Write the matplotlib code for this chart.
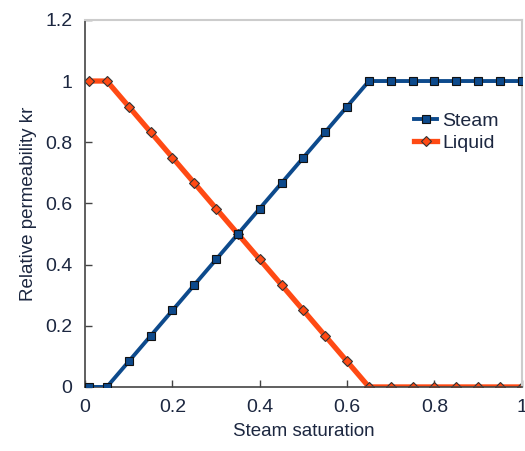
import matplotlib
matplotlib.use("Agg")
import matplotlib.pyplot as plt

plt.rcParams['font.family'] = ['Liberation Sans', 'DejaVu Sans']

# steam saturation and relative permeabilities
saturation = [0.01, 0.05, 0.10, 0.15, 0.20, 0.25, 0.30, 0.35, 0.40, 0.45, 0.50,
              0.55, 0.60, 0.65, 0.70, 0.75, 0.80, 0.85, 0.90, 0.95, 1.00]
kr_steam = [0.0, 0.0, 0.0833, 0.1667, 0.25, 0.3333, 0.4167, 0.5, 0.5833, 0.6667, 0.75,
            0.8333, 0.9167, 1.0, 1.0, 1.0, 1.0, 1.0, 1.0, 1.0, 1.0]
kr_liquid = [1.0, 1.0, 0.9167, 0.8333, 0.75, 0.6667, 0.5833, 0.5, 0.4167, 0.3333, 0.25,
             0.1667, 0.0833, 0.0, 0.0, 0.0, 0.0, 0.0, 0.0, 0.0, 0.0]

text_color = '#1c2740'
steam_color = '#0d4a8c'
liquid_color = '#ff4a14'

fig = plt.figure(figsize=(5.25, 4.51), dpi=100)
ax = fig.add_axes([0.162, 0.142, 0.832, 0.814])

ax.plot(saturation, kr_steam, color=steam_color, lw=2.8, marker='s', ms=5.8,
        mfc=steam_color, mec='#111111', mew=0.8, label='Steam', zorder=3)
ax.plot(saturation, kr_liquid, color=liquid_color, lw=3.8, marker='D', ms=4.6,
        mfc=liquid_color, mec='#333333', mew=0.8, label='Liquid', zorder=2)

ax.set_xlim(0, 1)
ax.set_ylim(0, 1.2)
ax.set_xticks([0, 0.2, 0.4, 0.6, 0.8, 1])
ax.set_xticklabels(['0', '0.2', '0.4', '0.6', '0.8', '1'])
ax.set_yticks([0, 0.2, 0.4, 0.6, 0.8, 1, 1.2])
ax.set_yticklabels(['0', '0.2', '0.4', '0.6', '0.8', '1', '1.2'])
ax.tick_params(direction='in', length=5, width=1, color='#444444',
               labelsize=14, labelcolor=text_color, pad=9)

for side in ('left', 'bottom'):
    ax.spines[side].set_color('#444444')
    ax.spines[side].set_linewidth(1.2)
for side in ('top', 'right'):
    ax.spines[side].set_color('#cccccc')
    ax.spines[side].set_linewidth(1.5)

ax.set_xlabel('Steam saturation', fontsize=13.5, color=text_color, labelpad=5)
ax.set_ylabel('Relative permeability kr', fontsize=13.5, color=text_color, labelpad=6)

leg = ax.legend(loc='upper left', bbox_to_anchor=(0.735, 0.77), frameon=False,
                fontsize=14, handlelength=1.2, handletextpad=0.25,
                labelspacing=0.25, borderaxespad=0)
for t in leg.get_texts():
    t.set_color(text_color)

fig.savefig('out.png', dpi=100)
